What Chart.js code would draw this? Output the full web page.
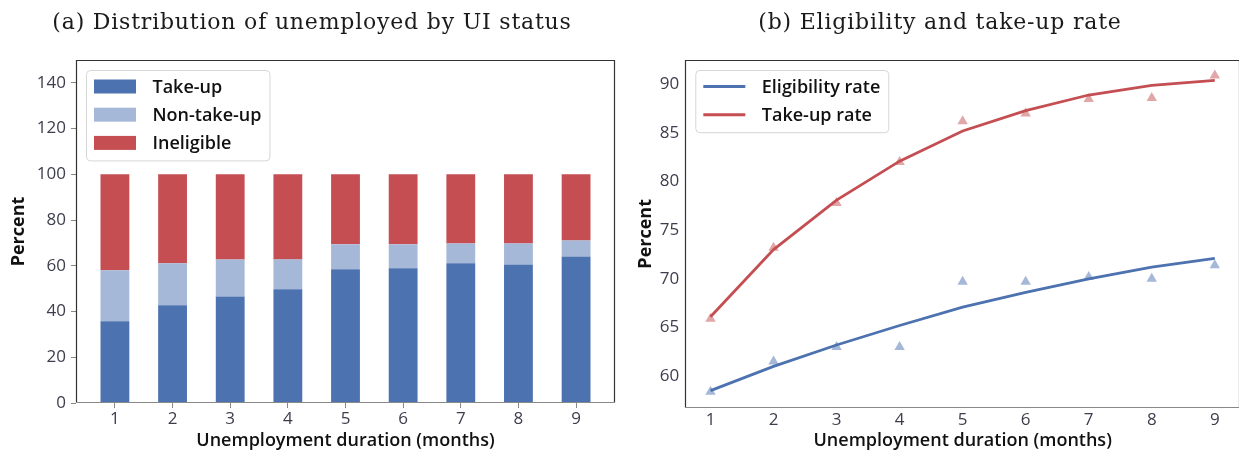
<!DOCTYPE html>
<html>
<head>
<meta charset="utf-8">
<script src="https://cdn.jsdelivr.net/npm/chart.js@4.4.1/dist/chart.umd.min.js"></script>
<style>
  html, body { margin: 0; padding: 0; width: 1239px; height: 450px; overflow: hidden; background: #fff; }
  .panel { position: absolute; top: 0; height: 450px; }
  #left { left: 0; width: 620px; }
  #right { left: 620px; width: 630px; }
  .caption { position: absolute; top: 9px; z-index: 2; font-family: "DejaVu Serif", serif; font-size: 22px;
             letter-spacing: 0.8px; color: #1a1a1a; white-space: nowrap; transform: translateX(-50%); }
</style>
</head>
<body>
<div class="caption" style="left:312px">(a) Distribution of unemployed by UI status</div>
<div class="caption" style="left:940px">(b) Eligibility and take-up rate</div>
<div class="panel" id="left"><canvas id="dist"></canvas></div>
<div class="panel" id="right"><canvas id="rates"></canvas></div>

<script>
// Unemployment duration in months
const months = [1, 2, 3, 4, 5, 6, 7, 8, 9];

// Panel (a): share of the unemployed by UI status (percent, stacks sum to 100)
const takeUpShare     = [35.7, 42.7, 46.6, 49.7, 58.5, 58.9, 61.1, 60.6, 64.1];
const nonTakeUpShare  = [22.3, 18.4, 16.2, 13.1, 10.9, 10.5,  8.7,  9.2,  7.0];
const ineligibleShare = [42.0, 38.9, 37.2, 37.2, 30.6, 30.6, 30.2, 30.2, 28.9];
const distTicks = [0, 20, 40, 60, 80, 100, 120, 140];

// Panel (b): observed rates (triangles) and fitted curves (lines)
const eligibilityObs = [58.4, 61.5, 63.0, 63.0, 69.7, 69.7, 70.2, 70.0, 71.4];
const eligibilityFit = [58.5, 61.0, 63.2, 65.2, 67.1, 68.6, 70.0, 71.2, 72.1];
const takeUpObs      = [65.9, 73.2, 77.8, 82.0, 86.2, 87.0, 88.5, 88.6, 90.9];
const takeUpFit      = [66.1, 73.0, 78.1, 82.1, 85.2, 87.3, 88.9, 89.9, 90.4];
const rateTicks = [60, 65, 70, 75, 80, 85, 90];

const BLUE = '#4C72B0', LIGHT_BLUE = '#A5B8D8', RED = '#C44E52';
const TICK_COLOR = '#3d3d4d';
const SANS = '"Open Sans", Roboto, sans-serif';

Chart.defaults.font.family = SANS;
Chart.defaults.animation = false;

// Axes frame: dark spines on left/top/right, grey base line
const framePlugin = {
  id: 'frame',
  afterDatasetsDraw(chart, args, opts) {
    const { ctx, chartArea: a } = chart;
    const L = Math.round(a.left) + 0.5, R = Math.round(a.right) - 0.5;
    const T = Math.round(a.top) + 0.5, B = Math.round(a.bottom) - 0.5;
    ctx.save();
    ctx.lineWidth = 1.2;
    ctx.strokeStyle = opts.edge || '#333';
    ctx.beginPath();
    ctx.moveTo(L, B); ctx.lineTo(L, T); ctx.lineTo(R, T); ctx.lineTo(R, B);
    ctx.stroke();
    ctx.strokeStyle = opts.base || '#888';
    ctx.beginPath();
    ctx.moveTo(L, B); ctx.lineTo(R, B);
    ctx.stroke();
    ctx.restore();
  }
};

// Legend box drawn inside the plot area, upper left
const innerLegend = {
  id: 'innerLegend',
  afterDraw(chart, args, opts) {
    const { ctx, chartArea: a } = chart;
    const items = chart.data.datasets.filter(d => d.inLegend);
    ctx.save();
    ctx.font = '600 18px ' + SANS;
    const textW = Math.max(...items.map(d => ctx.measureText(d.label).width));
    const x0 = a.left + 10, y0 = a.top + 10.5;
    const padL = 8, handle = 42, gap = 16.5, padR = 8, rowH = 28.2, firstRow = 16;
    const w = padL + handle + gap + textW + padR;
    const h = firstRow + rowH * (items.length - 1) + 18;
    ctx.beginPath();
    ctx.roundRect(x0 + 0.5, y0, w, h, 4);
    ctx.fillStyle = 'rgba(255,255,255,0.85)';
    ctx.fill();
    ctx.strokeStyle = '#d6d6d6';
    ctx.lineWidth = 1;
    ctx.stroke();
    items.forEach((d, i) => {
      const cy = y0 + firstRow + i * rowH;
      const hx = x0 + padL;
      if (opts.kind === 'patch') {
        ctx.fillStyle = d.backgroundColor;
        ctx.fillRect(hx, cy - 7, handle, 14);
      } else {
        ctx.strokeStyle = d.borderColor;
        ctx.lineWidth = 3;
        ctx.beginPath();
        ctx.moveTo(hx, cy); ctx.lineTo(hx + handle, cy);
        ctx.stroke();
      }
      ctx.fillStyle = '#111';
      ctx.textBaseline = 'middle';
      ctx.textAlign = 'left';
      ctx.fillText(d.label, hx + handle + gap, cy + 1);
    });
    ctx.restore();
  }
};

const tickFont = { size: 17, lineHeight: 1.2 };
const axisTitleFont = { size: 18, weight: 600, lineHeight: 1 };
const yTitleFont = { size: 18, weight: 'bold', lineHeight: 1.2 };

// ---------- Panel (a): stacked bars ----------
new Chart(document.getElementById('dist'), {
  type: 'bar',
  data: {
    labels: months,
    datasets: [
      { label: 'Take-up', data: takeUpShare, backgroundColor: BLUE, inLegend: true },
      { label: 'Non-take-up', data: nonTakeUpShare, backgroundColor: LIGHT_BLUE, inLegend: true },
      { label: 'Ineligible', data: ineligibleShare, backgroundColor: RED, inLegend: true }
    ]
  },
  options: {
    responsive: true,
    maintainAspectRatio: false,
    layout: { padding: { top: 60, right: 5, left: 0, bottom: 0 } },
    datasets: { bar: { categoryPercentage: 1, barPercentage: 0.5, borderWidth: 0 } },
    plugins: {
      legend: { display: false },
      tooltip: { enabled: false },
      frame: { edge: '#333', base: '#888' },
      innerLegend: { kind: 'patch' }
    },
    scales: {
      x: {
        type: 'linear', stacked: true, offset: false,
        min: 0.325, max: 9.675,
        afterBuildTicks: s => { s.ticks = months.map(v => ({ value: v })); },
        grid: { display: true, offset: false, drawOnChartArea: false, drawTicks: true, tickLength: 5, tickColor: '#888', tickWidth: 1 },
        border: { display: false },
        ticks: { font: tickFont, color: TICK_COLOR, padding: 1, maxRotation: 0 },
        title: { display: true, text: 'Unemployment duration (months)', font: axisTitleFont, color: '#111', padding: { top: 0, bottom: 0 } },
        afterFit: s => { s.height = 47; }
      },
      y: {
        stacked: true, min: 0, max: 150,
        afterBuildTicks: s => { s.ticks = distTicks.map(v => ({ value: v })); },
        grid: { display: true, drawOnChartArea: false, drawTicks: true, tickLength: 5, tickColor: '#888', tickWidth: 1 },
        border: { display: false },
        ticks: { font: tickFont, color: TICK_COLOR, padding: 5 },
        title: { display: true, text: 'Percent', font: yTitleFont, color: '#111', padding: { top: 8, bottom: 0 } },
        afterFit: s => { s.width = 76; }
      }
    }
  },
  plugins: [framePlugin, innerLegend]
});

// ---------- Panel (b): fitted curves with observed triangles ----------
new Chart(document.getElementById('rates'), {
  type: 'line',
  data: {
    labels: months,
    datasets: [
      { label: 'Eligibility rate', data: eligibilityFit, borderColor: BLUE, borderWidth: 2.8, pointRadius: 0, tension: 0, inLegend: true },
      { label: 'Take-up rate', data: takeUpFit, borderColor: RED, borderWidth: 2.8, pointRadius: 0, tension: 0, inLegend: true },
      { label: 'Eligibility (observed)', data: eligibilityObs, showLine: false, pointStyle: 'triangle', pointRadius: 6,
        pointBackgroundColor: 'rgba(76,114,176,0.5)', pointBorderWidth: 0, borderColor: 'rgba(0,0,0,0)' },
      { label: 'Take-up (observed)', data: takeUpObs, showLine: false, pointStyle: 'triangle', pointRadius: 6,
        pointBackgroundColor: 'rgba(196,78,82,0.5)', pointBorderWidth: 0, borderColor: 'rgba(0,0,0,0)' }
    ]
  },
  options: {
    responsive: true,
    maintainAspectRatio: false,
    layout: { padding: { top: 60, right: 10, left: 0, bottom: 0 } },
    plugins: {
      legend: { display: false },
      tooltip: { enabled: false },
      frame: { edge: '#333', base: '#888' },
      innerLegend: { kind: 'line' }
    },
    scales: {
      x: {
        type: 'linear', min: 0.6, max: 9.4,
        afterBuildTicks: s => { s.ticks = months.map(v => ({ value: v })); },
        grid: { display: false, drawTicks: false },
        border: { display: false },
        ticks: { font: tickFont, color: TICK_COLOR, padding: 2, maxRotation: 0 },
        title: { display: true, text: 'Unemployment duration (months)', font: axisTitleFont, color: '#111', padding: { top: 0, bottom: 0 } },
        afterFit: s => { s.height = 42.3; }
      },
      y: {
        min: 56.75, max: 92.5,
        afterBuildTicks: s => { s.ticks = rateTicks.map(v => ({ value: v })); },
        grid: { display: false, drawTicks: false },
        border: { display: false },
        ticks: { font: tickFont, color: TICK_COLOR, padding: 6 },
        title: { display: true, text: 'Percent', font: yTitleFont, color: '#111', padding: { top: 15, bottom: 0 } },
        afterFit: s => { s.width = 65.3; }
      }
    }
  },
  plugins: [framePlugin, innerLegend]
});
</script>
</body>
</html>
